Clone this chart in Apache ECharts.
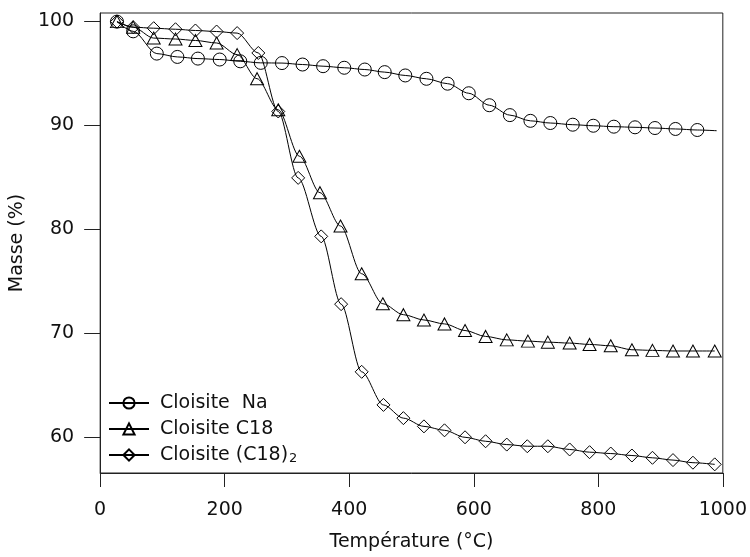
<!DOCTYPE html>
<html>
<head>
<meta charset="utf-8">
<script src="https://cdn.jsdelivr.net/npm/echarts@6/dist/echarts.min.js"></script>
<style>
html,body{margin:0;padding:0;background:#fff;}
#chart{width:750px;height:557px;}
</style>
</head>
<body>
<div id="chart"></div>
<script>
// ---- data ----
const seriesNames = ['Cloisite  Na', 'Cloisite C18', 'Cloisite (C18)2'];

const naTemp = [27, 53, 91, 124, 157, 192, 225, 258, 292, 325, 358, 392, 425, 457, 490, 524, 558, 592, 625, 658, 691, 723, 759, 792, 825, 859, 891, 924, 959, 990];
const naMass = [99.93, 99.0, 96.86, 96.54, 96.38, 96.29, 96.12, 95.97, 95.95, 95.81, 95.65, 95.5, 95.33, 95.08, 94.76, 94.44, 93.97, 93.05, 91.9, 90.95, 90.4, 90.19, 90.03, 89.93, 89.84, 89.78, 89.71, 89.62, 89.52, 89.45];
const naLineOnly = [29]; // index of the line end without a marker

const c18Temp = [27, 53, 86, 121, 153, 187, 220, 252, 286, 320, 353, 386, 420, 454, 487, 520, 553, 586, 619, 653, 687, 719, 754, 786, 820, 854, 887, 920, 952, 987];
const c18Mass = [99.93, 99.4, 98.35, 98.26, 98.12, 97.88, 96.76, 94.45, 91.46, 87.0, 83.5, 80.3, 75.71, 72.83, 71.78, 71.27, 70.89, 70.26, 69.69, 69.36, 69.24, 69.14, 69.05, 68.92, 68.79, 68.41, 68.35, 68.29, 68.29, 68.29];

const c182Temp = [27, 53, 86, 121, 153, 187, 220, 254, 286, 318, 355, 387, 420, 455, 487, 520, 553, 586, 619, 653, 686, 719, 754, 786, 820, 854, 887, 920, 952, 987];
const c182Mass = [99.93, 99.4, 99.3, 99.2, 99.08, 98.98, 98.83, 96.92, 91.3, 84.92, 79.3, 72.79, 66.29, 63.11, 61.84, 61.05, 60.67, 60.0, 59.62, 59.3, 59.14, 59.14, 58.83, 58.57, 58.44, 58.25, 58.03, 57.81, 57.56, 57.4];

const xTicks = [0, 200, 400, 600, 800, 1000];
const yTicks = [60, 70, 80, 90, 100];

// ---- chart ----
const FONT = 'DejaVu Sans';
function pairs(xs, ys, noMarker) {
  return xs.map((x, i) => {
    const item = { value: [x, ys[i]] };
    if (noMarker && noMarker.indexOf(i) >= 0) item.symbol = 'none';
    return item;
  });
}
function makeSeries(name, data, symbol, size) {
  return {
    name: name,
    type: 'line',
    data: data,
    symbol: symbol,
    symbolSize: size,
    smooth: 0.3,
    smoothMonotone: 'x',
    lineStyle: { color: '#000', width: 1 },
    itemStyle: { color: 'rgba(255,255,255,0)', borderColor: '#000', borderWidth: 1 },
    emphasis: { disabled: true },
    animation: false
  };
}

const chart = echarts.init(document.getElementById('chart'), null, { renderer: 'canvas' });
chart.setOption({
  backgroundColor: '#fff',
  animation: false,
  grid: {
    left: 99, right: 25, top: 13, bottom: 80,
    show: true, borderColor: '#222', borderWidth: 1, backgroundColor: 'transparent'
  },
  legend: {
    orient: 'vertical',
    left: 103,
    top: 388,
    itemWidth: 40,
    itemHeight: 14,
    itemGap: 6,
    data: seriesNames,
    formatter: function (n) {
      if (n === 'Cloisite (C18)2') return 'Cloisite (C18){sub|2}';
      return n;
    },
    textStyle: {
      fontFamily: FONT, fontSize: 19, color: '#111', lineHeight: 20,
      padding: [0, 0, 0, 6],
      rich: {
        sub: { fontFamily: FONT, fontSize: 13, color: '#111', verticalAlign: 'bottom', padding: [12, 0, 0, 1] }
      }
    }
  },
  xAxis: {
    type: 'value',
    min: 0, max: 1000, interval: 200,
    name: 'Température (°C)',
    nameLocation: 'middle',
    nameGap: 60,
    nameTextStyle: { fontFamily: FONT, fontSize: 19, color: '#111' },
    axisLine: { show: true, lineStyle: { color: '#222', width: 1 } },
    axisTick: { show: true, length: 14, lineStyle: { color: '#222' }, customValues: xTicks },
    axisLabel: { fontFamily: FONT, fontSize: 19, color: '#111', margin: 28, customValues: xTicks,
      formatter: function (v) { return String(v); } },
    splitLine: { show: false }
  },
  yAxis: {
    type: 'value',
    min: 56.57, max: 100.76,
    name: 'Masse (%)',
    nameLocation: 'middle',
    nameGap: 66,
    nameTextStyle: { fontFamily: FONT, fontSize: 19, color: '#111' },
    axisLine: { show: true, lineStyle: { color: '#222', width: 1 } },
    axisTick: { show: true, length: 16, lineStyle: { color: '#222' }, customValues: yTicks },
    axisLabel: { fontFamily: FONT, fontSize: 19, color: '#111', margin: 26, customValues: yTicks,
      formatter: function (v) { return String(v); } },
    splitLine: { show: false }
  },
  series: [
    makeSeries(seriesNames[0], pairs(naTemp, naMass, naLineOnly), 'circle', 13),
    makeSeries(seriesNames[1], pairs(c18Temp, c18Mass), 'triangle', [13, 12]),
    makeSeries(seriesNames[2], pairs(c182Temp, c182Mass), 'diamond', [13, 13])
  ]
});
</script>
</body>
</html>
